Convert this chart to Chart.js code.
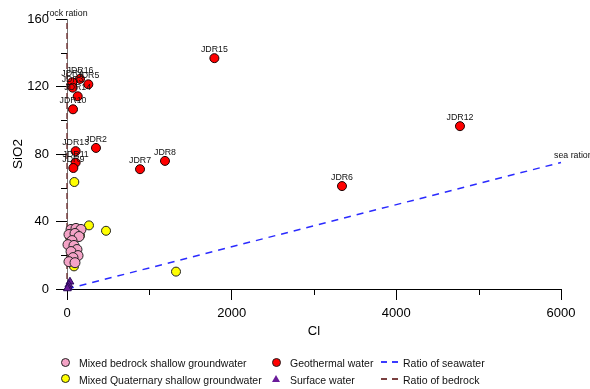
<!DOCTYPE html>
<html>
<head>
<meta charset="utf-8">
<script src="https://cdn.jsdelivr.net/npm/chart.js@4"></script>
<style>
  html, body { margin:0; padding:0; background:#fff; }
  #wrap { position:relative; width:590px; height:389px; }
  #legend { position:absolute; left:0; top:0; width:590px; height:389px; pointer-events:none;
            font-family:"Liberation Sans", Arial, sans-serif; font-size:10.5px; color:#111; }
  .lt { position:absolute; white-space:nowrap; line-height:12px; }
  .mk { position:absolute; }
</style>
</head>
<body>
<div id="wrap">
  <canvas id="c" width="590" height="389"></canvas>
  <div id="legend">
    <div class="mk" style="left:61px;top:358px;width:7px;height:7px;border-radius:50%;background:#f4a3c6;border:1px solid #222;"></div>
    <div class="lt" style="left:79px;top:357px;">Mixed bedrock shallow groundwater</div>
    <div class="mk" style="left:61px;top:374px;width:7px;height:7px;border-radius:50%;background:#ffff00;border:1px solid #222;"></div>
    <div class="lt" style="left:79px;top:374px;">Mixed Quaternary shallow groundwater</div>
    <div class="mk" style="left:272px;top:358px;width:7px;height:7px;border-radius:50%;background:#ff0000;border:1px solid #222;"></div>
    <div class="lt" style="left:290px;top:357px;">Geothermal water</div>
    <div class="mk" style="left:272px;top:375px;width:0;height:0;border-left:4px solid transparent;border-right:4px solid transparent;border-bottom:7px solid #6a1b9a;"></div>
    <div class="lt" style="left:290px;top:374px;">Surface water</div>
    <svg class="mk" style="left:381px;top:360px;" width="20" height="4"><line x1="0" y1="2" x2="19" y2="2" stroke="#3b3bff" stroke-width="2" stroke-dasharray="6,5"/></svg>
    <div class="lt" style="left:403px;top:357px;">Ratio of seawater</div>
    <svg class="mk" style="left:381px;top:377px;" width="20" height="4"><line x1="0" y1="2" x2="19" y2="2" stroke="#7a4040" stroke-width="2" stroke-dasharray="6,5"/></svg>
    <div class="lt" style="left:403px;top:374px;">Ratio of bedrock</div>
  </div>
</div>
<script>
// ---- data (Cl, SiO2) ----
const pinkCl   = [49, 109, 170, 24, 97, 146, 61, 12, 85, 121, 49, 134, 73, 24, 97];
const pinkSiO2 = [35.3, 35.9, 35.3, 32.3, 32.9, 31.1, 28.7, 26.3, 25.8, 23.4, 22.2, 19.8, 18.6, 16.2, 15.6];

const yellowCl   = [89, 267, 474, 158, 85, 1324, 36];
const yellowSiO2 = [63.4, 37.7, 34.5, 31.7, 13.4, 10.3, 30.7];

const geoNames = ["JDR15", "JDR12", "JDR8", "JDR7", "JDR6", "JDR2", "JDR13", "JDR11", "JDR9", "JDR16", "JDR4", "JDR5", "JDR3", "JDR14", "JDR10"];
const geoCl    = [1790, 4773, 1190, 887, 3340, 352, 105, 105, 77, 158, 64, 259, 69, 130, 73];
const geoSiO2  = [136.8, 96.5, 75.9, 71.0, 61.0, 83.6, 81.7, 74.9, 71.7, 124.5, 122.5, 121.3, 119.3, 114.2, 106.5];

const surfCl   = [36, 22, 16, 5];
const surfSiO2 = [4.3, 2.5, 1.0, 0.3];

const seaCl   = [0, 6000];
const seaSiO2 = [0, 75];
const rockCl   = [0, 0];
const rockSiO2 = [0, 160];

const xTicks = [0, 2000, 4000, 6000];
const xMinor = [1000, 3000, 5000];
const yTicks = [0, 40, 80, 120, 160];
const yMinor = [20, 60, 100, 140];

const pts = (xs, ys) => xs.map((x, i) => ({ x: x, y: ys[i] }));
const FONT = '"Liberation Sans", Arial, sans-serif';

const extras = {
  id: 'extras',
  afterDraw(chart) {
    const ctx = chart.ctx;
    const xs = chart.scales.x, ys = chart.scales.y;
    ctx.save();
    // minor ticks
    ctx.strokeStyle = '#000'; ctx.lineWidth = 1;
    xMinor.forEach(v => {
      const px = Math.round(xs.getPixelForValue(v)) + 0.5;
      ctx.beginPath(); ctx.moveTo(px, xs.top); ctx.lineTo(px, xs.top + 6); ctx.stroke();
    });
    yMinor.forEach(v => {
      const py = Math.round(ys.getPixelForValue(v)) + 0.5;
      ctx.beginPath(); ctx.moveTo(ys.right - 6, py); ctx.lineTo(ys.right, py); ctx.stroke();
    });
    // point labels
    ctx.fillStyle = '#111';
    ctx.font = '8.8px ' + FONT;
    ctx.textAlign = 'center'; ctx.textBaseline = 'middle';
    const meta = chart.getDatasetMeta(0);
    meta.data.forEach((el, i) => {
      ctx.fillText(geoNames[i], el.x, el.y - 8.5);
    });
    // line labels
    const sx = xs.getPixelForValue(seaCl[1]), sy = ys.getPixelForValue(seaSiO2[1]);
    ctx.textAlign = 'left';
    ctx.fillText('sea ration', sx - 7, sy - 7);
    const rx = xs.getPixelForValue(rockCl[1]), ry = ys.getPixelForValue(rockSiO2[1]);
    ctx.textAlign = 'center';
    ctx.fillText('rock ration', rx, ry - 5);
    ctx.restore();
  }
};

new Chart(document.getElementById('c'), {
  type: 'scatter',
  data: {
    datasets: [
      { label: 'Geothermal water', data: pts(geoCl, geoSiO2), backgroundColor: '#ff0000', borderColor: '#1a0000',
        borderWidth: 1, pointRadius: 4.5, clip: false },
      { label: 'Surface water', data: pts(surfCl, surfSiO2), backgroundColor: '#6a1b9a', borderColor: '#2a0a5a',
        borderWidth: 1, pointStyle: 'triangle', pointRadius: 4.5, clip: false },
      { label: 'Mixed bedrock shallow groundwater', data: pts(pinkCl, pinkSiO2), backgroundColor: '#f4a3c6', borderColor: '#222',
        borderWidth: 1, pointRadius: 5, clip: false },
      { label: 'Mixed Quaternary shallow groundwater', data: pts(yellowCl, yellowSiO2), backgroundColor: '#ffff00', borderColor: '#222',
        borderWidth: 1, pointRadius: 4.5, clip: false },
      { type: 'line', label: 'Ratio of seawater', data: pts(seaCl, seaSiO2), borderColor: '#2a2aff', borderWidth: 1.5,
        borderDash: [7, 6], pointRadius: 0, fill: false, clip: false },
      { type: 'line', label: 'Ratio of bedrock', data: pts(rockCl, rockSiO2), borderColor: '#7a4040', borderWidth: 1.5,
        borderDash: [6, 4], pointRadius: 0, fill: false, clip: false }
    ]
  },
  options: {
    responsive: false,
    animation: false,
    layout: { padding: { top: 19, right: 29, left: 0, bottom: 0 } },
    plugins: { legend: { display: false }, tooltip: { enabled: false } },
    scales: {
      x: {
        type: 'linear', min: 0, max: 6000,
        afterFit: s => { s.height = 100; },
        afterBuildTicks: s => { s.ticks = xTicks.map(v => ({ value: v })); },
        grid: { drawOnChartArea: false, drawTicks: true, tickLength: 11, tickColor: '#000' },
        border: { display: true, color: '#000', width: 1 },
        ticks: { padding: 6, color: '#000', font: { family: FONT, size: 13 }, maxRotation: 0, callback: v => String(v) },
        title: { display: true, text: 'Cl', color: '#000', font: { family: FONT, size: 13 }, padding: { top: 0, bottom: 50 } }
      },
      y: {
        type: 'linear', min: 0, max: 160,
        afterFit: s => { s.width = 67; },
        afterBuildTicks: s => { s.ticks = yTicks.map(v => ({ value: v })); },
        grid: { drawOnChartArea: false, drawTicks: true, tickLength: 11, tickColor: '#000' },
        border: { display: true, color: '#777', width: 1 },
        ticks: { padding: 7, color: '#000', font: { family: FONT, size: 13 }, callback: v => String(v) },
        title: { display: true, text: 'SiO2', color: '#000', font: { family: FONT, size: 13.5 }, padding: { top: 10, bottom: 0 } }
      }
    }
  },
  plugins: [extras]
});
</script>
</body>
</html>
